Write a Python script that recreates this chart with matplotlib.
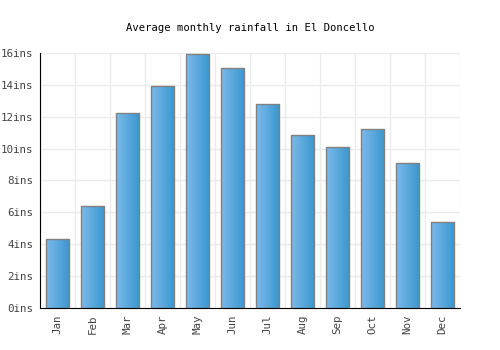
import numpy as np
import matplotlib
matplotlib.use("Agg")
import matplotlib.pyplot as plt
from matplotlib.colors import LinearSegmentedColormap

months = ["Jan", "Feb", "Mar", "Apr", "May", "Jun", "Jul", "Aug", "Sep", "Oct", "Nov", "Dec"]
rainfall = [4.33, 6.4, 12.23, 13.93, 15.93, 15.06, 12.8, 10.85, 10.1, 11.23, 9.1, 5.4]
yticks = [0, 2, 4, 6, 8, 10, 12, 14, 16]

plt.rcParams['font.family'] = ['DejaVu Sans Mono']

fig = plt.figure(figsize=(5, 3.5), dpi=100)
ax = fig.add_axes([0.08, 0.12, 0.84, 0.729])

x = np.arange(len(months))
bars = ax.bar(x, rainfall, width=0.68, color='none', edgecolor='#808080', linewidth=1, zorder=3)

# horizontal gradient inside every bar
cmap = LinearSegmentedColormap.from_list("blu", ["#7db9ea", "#3897cf"])
grad = np.linspace(0, 1, 100).reshape(1, -1)
for b in bars:
    x0, y0 = b.get_x(), b.get_y()
    w, h = b.get_width(), b.get_height()
    im = ax.imshow(grad, cmap=cmap, aspect='auto', extent=[x0, x0 + w, y0, y0 + h], zorder=2)
    im.set_clip_path(b)

ax.set_xlim(-0.5, 11.5)
ax.set_ylim(0, 16)
ax.set_yticks(yticks)
ax.set_yticklabels([f"{v}ins" for v in yticks], fontsize=7.8, color='#444444')
ax.set_xticks(x)
ax.set_xticklabels(months, rotation=90, fontsize=7.8, color='#444444')
ax.set_xticks(np.arange(-0.5, 12, 1), minor=True)
ax.tick_params(axis='both', length=0, which='both', pad=5)
ax.grid(True, axis='y', color='#ebebeb', linewidth=1, zorder=0)
ax.grid(True, axis='x', which='minor', color='#ebebeb', linewidth=1, zorder=0)
ax.set_axisbelow(True)

for s in ['top', 'right']:
    ax.spines[s].set_visible(False)
ax.spines['left'].set_color('black')
ax.spines['bottom'].set_color('black')

fig.suptitle("Average monthly rainfall in El Doncello", fontsize=7.6, y=0.935)

fig.savefig("out.png", dpi=100)
